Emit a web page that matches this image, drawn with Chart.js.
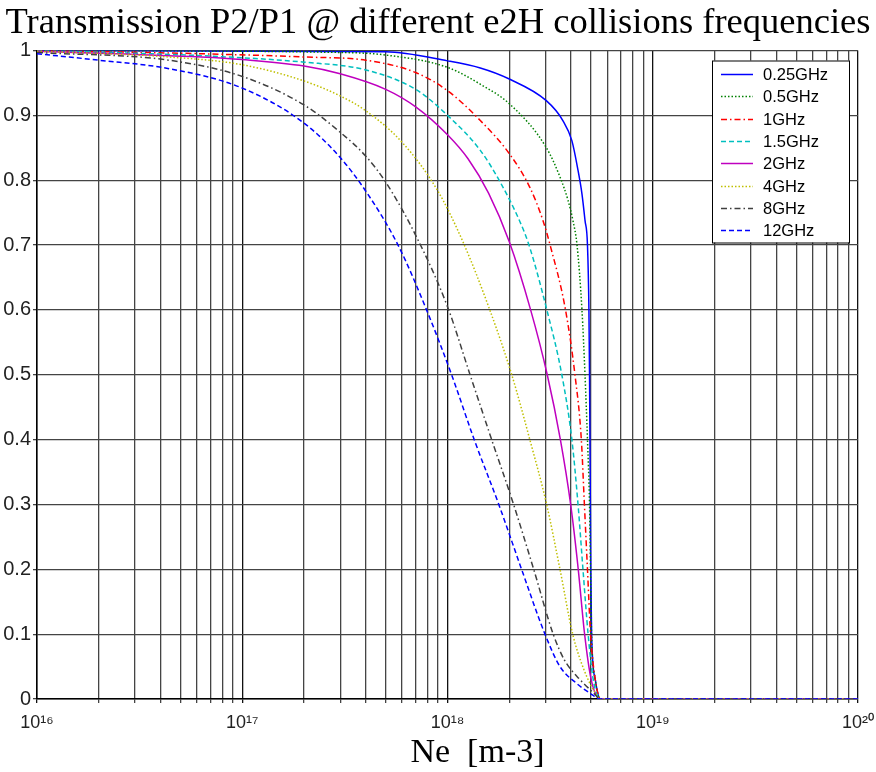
<!DOCTYPE html>
<html>
<head>
<meta charset="utf-8">
<script src="https://cdn.jsdelivr.net/npm/chart.js@4.4.1/dist/chart.umd.min.js"></script>
<style>
  html, body { margin: 0; padding: 0; background: #fff; }
  #wrap { width: 876px; height: 772px; }
</style>
</head>
<body>
<div id="wrap"><canvas id="transmission" width="876" height="772"></canvas></div>
<script>
// legend labels, top to bottom
var freqLabels = ['0.25GHz', '0.5GHz', '1GHz', '1.5GHz', '2GHz', '4GHz', '8GHz', '12GHz'];

// x axis decades (10^n)
var decades = [16, 17, 18, 19, 20];
var supDigits = { '0': '\u2070', '1': '\u00B9', '2': '\u00B2', '3': '\u00B3', '4': '\u2074',
                  '5': '\u2075', '6': '\u2076', '7': '\u2077', '8': '\u2078', '9': '\u2079' };

// Ne [m-3] / transmission P2/P1
var ne025 = [1e16, 5e17, 1e18, 1.445e18, 2e18, 3.02e18, 3.648e18, 4.036e18, 4.325e18, 4.519e18, 4.677e18, 4.808e18, 4.887e18, 4.92e18, 4.943e18, 4.966e18, 4.989e18, 5.035e18, 5.248e18, 5.56e18, 1e20];
var t025  = [1.0, 0.998, 0.984, 0.973, 0.956, 0.923, 0.892, 0.861, 0.815, 0.779, 0.738, 0.70, 0.60, 0.50, 0.40, 0.30, 0.20, 0.10, 0.03, 0, 0];

var ne05 = [1e16, 3e17, 5e17, 1e18, 1.445e18, 2e18, 3.02e18, 3.532e18, 3.864e18, 4.083e18, 4.276e18, 4.519e18, 4.677e18, 4.808e18, 4.92e18, 4.977e18, 5.035e18, 5.248e18, 5.56e18, 1e20];
var t05  = [1.0, 0.997, 0.993, 0.974, 0.948, 0.918, 0.851, 0.805, 0.769, 0.738, 0.70, 0.60, 0.50, 0.40, 0.30, 0.20, 0.10, 0.03, 0, 0];

var ne1 = [1e16, 6.3e16, 2e17, 4e17, 7e17, 1e18, 1.445e18, 2e18, 2.518e18, 2.917e18, 3.162e18, 3.758e18, 4.178e18, 4.488e18, 4.645e18, 4.808e18, 4.977e18, 5.248e18, 5.56e18, 1e20];
var t1  = [1.0, 0.995, 0.990, 0.985, 0.966, 0.938, 0.892, 0.841, 0.789, 0.738, 0.70, 0.60, 0.50, 0.40, 0.30, 0.20, 0.10, 0.03, 0, 0];

var ne15 = [1e16, 6.3e16, 2e17, 4e17, 7e17, 1e18, 1.445e18, 1.799e18, 2.254e18, 2.495e18, 3.048e18, 3.606e18, 4.036e18, 4.325e18, 4.571e18, 4.842e18, 5.129e18, 5.56e18, 1e20];
var t15  = [1.0, 0.992, 0.982, 0.970, 0.940, 0.900, 0.846, 0.798, 0.736, 0.70, 0.60, 0.50, 0.40, 0.30, 0.20, 0.10, 0.03, 0, 0];

var ne2 = [1e16, 6.3e16, 1e17, 2e17, 3e17, 5e17, 7e17, 1e18, 1.259e18, 1.585e18, 2e18, 2.541e18, 3.062e18, 3.548e18, 3.981e18, 4.335e18, 4.656e18, 5.012e18, 5.56e18, 1e20];
var t2  = [0.999, 0.990, 0.986, 0.976, 0.964, 0.940, 0.913, 0.870, 0.833, 0.780, 0.705, 0.60, 0.50, 0.40, 0.30, 0.20, 0.10, 0.03, 0, 0];

var ne4 = [1e16, 4.4e16, 1e17, 2e17, 3e17, 4e17, 6.026e17, 8.913e17, 1.189e18, 1.607e18, 2.056e18, 2.518e18, 3.041e18, 3.532e18, 4.074e18, 4.624e18, 5.188e18, 5.56e18, 1e20];
var t4  = [0.999, 0.990, 0.978, 0.953, 0.930, 0.907, 0.858, 0.785, 0.705, 0.60, 0.50, 0.40, 0.30, 0.20, 0.10, 0.045, 0.012, 0, 0];

var ne8 = [1e16, 4.4e16, 1e17, 2e17, 3e17, 4e17, 5e17, 7e17, 1e18, 1.288e18, 1.641e18, 2.099e18, 2.63e18, 3.273e18, 3.715e18, 4.416e18, 5.129e18, 5.56e18, 1e20];
var t8  = [0.997, 0.985, 0.960, 0.916, 0.874, 0.837, 0.797, 0.715, 0.605, 0.50, 0.40, 0.30, 0.20, 0.10, 0.06, 0.03, 0.01, 0, 0];

var ne12 = [1e16, 2e16, 4.4e16, 1e17, 2e17, 3e17, 4e17, 5.741e17, 7.907e17, 1.047e18, 1.349e18, 1.778e18, 2.296e18, 2.985e18, 3.532e18, 4.256e18, 4.943e18, 5.56e18, 1e20];
var t12  = [0.995, 0.985, 0.972, 0.942, 0.888, 0.835, 0.783, 0.70, 0.60, 0.50, 0.40, 0.30, 0.20, 0.10, 0.05, 0.024, 0.009, 0, 0];

var neSeries = [ne025, ne05, ne1, ne15, ne2, ne4, ne8, ne12];
var tSeries  = [t025, t05, t1, t15, t2, t4, t8, t12];

// matlab style colours / line styles
var lineColors = ['#0000ff', '#008000', '#ff0000', '#00bfbf', '#bf00bf', '#bfbf00', '#404040', '#0000ff'];
var lineDashes = [[], [1.5, 2], [6, 3, 1.5, 3], [5, 3], [], [1.5, 2], [6, 3, 1.5, 3], [5, 3]];

// log grid: 1..9 x 10^n
var xTicks = [];
decades.forEach(function (d, i) {
  if (i == decades.length - 1) { xTicks.push(Math.pow(10, d)); return; }
  for (var m = 1; m <= 9; m++) xTicks.push(m * Math.pow(10, d));
});

function isDecade(v) {
  var e = Math.log10(v);
  return Math.abs(e - Math.round(e)) < 1e-9;
}

function supText(n) {
  return String(n).split('').map(function (c) { return supDigits[c]; }).join('');
}

var datasets = freqLabels.map(function (lab, i) {
  return {
    label: lab,
    data: neSeries[i].map(function (x, j) { return { x: x, y: tSeries[i][j] }; }),
    borderColor: lineColors[i],
    borderDash: lineDashes[i],
    borderWidth: 1.5,
    pointRadius: 0,
    fill: false,
    cubicInterpolationMode: 'monotone',
    order: freqLabels.length - i
  };
});

// legend box inside the plot + x label, matlab like
var legendBox = {
  id: 'legendBox',
  afterDatasetsDraw: function (chart) {
    var ctx = chart.ctx, area = chart.chartArea;
    var w = 137, h = 182;
    var x0 = area.right - 9 - w, y0 = area.top + 10;
    ctx.save();
    ctx.fillStyle = '#fff';
    ctx.fillRect(x0, y0, w, h);
    ctx.strokeStyle = '#000';
    ctx.lineWidth = 1;
    ctx.strokeRect(x0 + 0.5, y0 + 0.5, w, h);
    ctx.font = '16.5px "Liberation Sans", Arial, sans-serif';
    ctx.textBaseline = 'middle';
    chart.data.datasets.forEach(function (ds, i) {
      var y = Math.round(y0 + 13.5 + i * 22.3) + 0.5;
      ctx.strokeStyle = ds.borderColor;
      ctx.lineWidth = ds.borderWidth;
      ctx.setLineDash(ds.borderDash);
      ctx.beginPath();
      ctx.moveTo(x0 + 9, y);
      ctx.lineTo(x0 + 41, y);
      ctx.stroke();
      ctx.setLineDash([]);
      ctx.fillStyle = '#000';
      ctx.fillText(ds.label, x0 + 51, y + 1);
    });
    ctx.restore();
  },
  afterDraw: function (chart) {
    var ctx = chart.ctx, area = chart.chartArea;
    ctx.save();
    ctx.font = '34px "Liberation Serif", "Times New Roman", serif';
    ctx.fillStyle = '#000';
    ctx.textAlign = 'center';
    ctx.textBaseline = 'alphabetic';
    ctx.fillText('Ne  [m-3]', (area.left + area.right) / 2 + 30, 762);
    ctx.restore();
  }
};

Chart.defaults.font.family = '"Liberation Sans", Arial, sans-serif';
Chart.defaults.color = '#222';

var chartArea = document.getElementById('transmission');
var TransmissionChart = new Chart(chartArea, {
  type: 'line',
  data: { datasets: datasets },
  plugins: [legendBox],
  options: {
    responsive: false,
    animation: false,
    devicePixelRatio: 1,
    layout: { padding: 0 },
    plugins: {
      legend: { display: false },
      tooltip: { enabled: false },
      title: {
        display: true,
        text: 'Transmission P2/P1 @ different e2H collisions frequencies',
        color: '#000',
        font: { family: '"Liberation Serif", "Times New Roman", serif', size: 36.5, weight: 'normal', lineHeight: 1.0 },
        padding: { top: 5, bottom: 9 }
      }
    },
    scales: {
      x: {
        type: 'logarithmic',
        min: 1e16,
        max: 1e20,
        afterBuildTicks: function (scale) {
          scale.ticks = xTicks.map(function (v) { return { value: v }; });
        },
        afterFit: function (scale) {
          scale.height = 73;
          scale.paddingLeft = 0;
          scale.paddingRight = 18;
        },
        ticks: {
          autoSkip: false,
          maxRotation: 0,
          padding: 9,
          color: '#222',
          font: { size: 18 },
          callback: function (v) {
            return isDecade(v) ? '10' + supText(Math.round(Math.log10(v))) : '';
          }
        },
        grid: {
          color: function (c) { return (c.tick && isDecade(c.tick.value)) ? '#111' : '#444'; },
          lineWidth: 1.3,
          tickLength: 4
        },
        border: { color: '#000', width: 1.5 },
        title: { display: false }
      },
      y: {
        min: 0,
        max: 1,
        afterFit: function (scale) { scale.width = 37; },
        ticks: {
          stepSize: 0.1,
          padding: 2,
          color: '#222',
          font: { size: 20 },
          callback: function (v) { return String(Math.round(v * 10) / 10); }
        },
        grid: { color: '#444', lineWidth: 1.3, tickLength: 4 },
        border: { color: '#000', width: 1.5 }
      }
    }
  }
});
</script>
</body>
</html>
